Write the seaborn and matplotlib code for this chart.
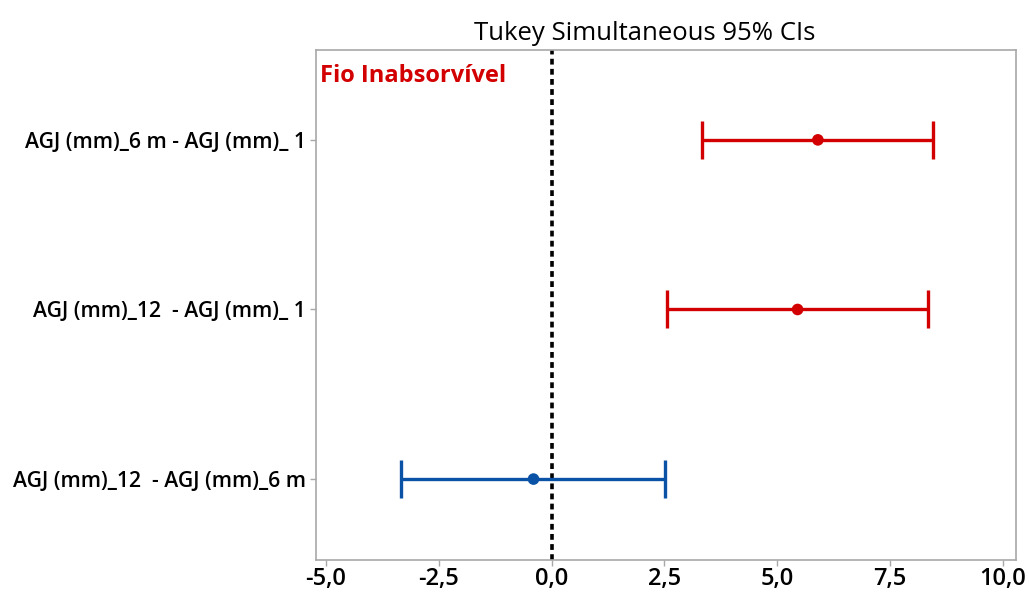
import matplotlib
matplotlib.use("Agg")
import matplotlib.pyplot as plt
import seaborn as sns
import pandas as pd

comparisons = [
    "AGJ (mm)_6 m - AGJ (mm)_ 1",
    "AGJ (mm)_12  - AGJ (mm)_ 1",
    "AGJ (mm)_12  - AGJ (mm)_6 m",
]
centers = [5.90, 5.45, -0.40]
lower = [3.34, 2.56, -3.34]
upper = [8.44, 8.33, 2.51]
significant = [True, True, False]
x_ticks = [-5.0, -2.5, 0.0, 2.5, 5.0, 7.5, 10.0]

sns.set_theme(style="white")
plt.rcParams["font.family"] = ["Open Sans", "DejaVu Sans"]
plt.rcParams["text.color"] = "black"
plt.rcParams["xtick.color"] = "black"
plt.rcParams["ytick.color"] = "black"

df = pd.DataFrame({
    "comparison": comparisons,
    "center": centers,
    "lower": lower,
    "upper": upper,
    "group": ["sig" if s else "ns" for s in significant],
    "pos": list(range(len(comparisons))),
})
palette = {"sig": "#d20000", "ns": "#0a52a6"}

fig = plt.figure(figsize=(10.29, 5.95), dpi=100)
ax = fig.add_axes([0.307, 0.058, 0.680, 0.858])

for _, row in df.iterrows():
    c = palette[row["group"]]
    ax.errorbar(row["center"], row["pos"],
                xerr=[[row["center"] - row["lower"]], [row["upper"] - row["center"]]],
                fmt="none", ecolor=c, elinewidth=2.4, capsize=13.5, capthick=2.4, zorder=3)

sns.scatterplot(data=df, x="center", y="pos", hue="group", palette=palette,
                s=70, edgecolor="none", legend=False, ax=ax, zorder=4)

ax.axvline(0, color="black", linestyle=(0, (1.6, 1.2)), linewidth=2.6, zorder=2)

ax.set_xlim(-5.22, 10.28)
ax.set_ylim(2.48, -0.53)
ax.set_xticks(x_ticks)
ax.set_xticklabels([f"{t:.1f}".replace(".", ",") for t in x_ticks],
                   fontsize=17, fontweight="semibold")
ax.set_yticks(df["pos"])
ax.set_yticklabels(df["comparison"], fontsize=15.2, fontweight="semibold")
ax.set_xlabel("")
ax.set_ylabel("")

for sp in ax.spines.values():
    sp.set_color("#a8a8a8")
    sp.set_linewidth(1.2)
ax.tick_params(axis="both", which="both", direction="out", length=4, width=1,
               color="#a8a8a8", left=True, bottom=True, labelcolor="black")
ax.tick_params(axis="x", pad=1)
ax.tick_params(axis="y", pad=3)

ax.set_title("Tukey Simultaneous 95% CIs", fontsize=18.5, pad=7, color="black", x=0.47)
ax.text(0.006, 0.972, "Fio Inabsorvível", transform=ax.transAxes,
        color="#d20000", fontsize=17, fontweight="bold", ha="left", va="top")

fig.savefig("out.png", dpi=100)
